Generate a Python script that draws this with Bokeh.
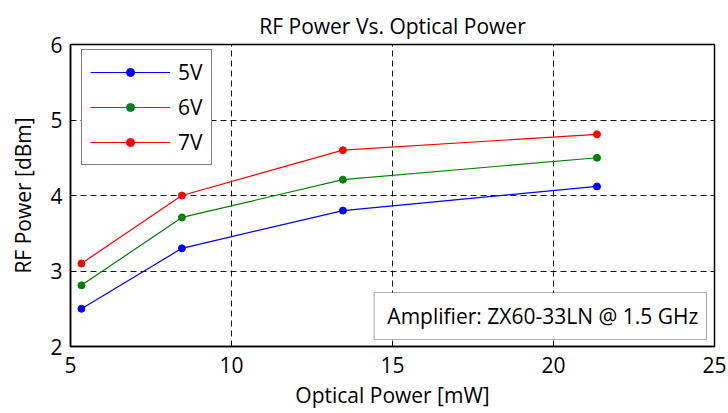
from bokeh.plotting import figure
from bokeh.models import Range1d, Legend, LegendItem, Label, BoxAnnotation, FixedTicker
from bokeh.embed import file_html
from bokeh.resources import INLINE

# Data
optical_power = [5.34, 8.46, 13.46, 21.35]
rf_5v = [2.50, 3.30, 3.80, 4.12]
rf_6v = [2.81, 3.71, 4.21, 4.50]
rf_7v = [3.10, 4.00, 4.60, 4.81]
series_names = ["5V", "6V", "7V"]
series_colors = ["#0000ff", "#008000", "#ff0000"]
x_ticks = [5, 10, 15, 20, 25]
y_ticks = [2, 3, 4, 5, 6]

FONT = "Open Sans"
FS = "21px"

p = figure(frame_width=644, frame_height=302,
           min_border_left=70, min_border_right=14, min_border_top=44, min_border_bottom=67,
           x_range=Range1d(5, 25), y_range=Range1d(2, 6),
           output_backend="svg", toolbar_location=None,
           title="RF Power Vs. Optical Power")

p.title.text_font = FONT
p.title.text_font_size = FS
p.title.text_font_style = "normal"
p.title.align = "center"
p.title.text_color = "black"

p.outline_line_color = "black"
p.outline_line_width = 1.5
p.outline_line_alpha = 1.0
p.background_fill_color = "white"
p.border_fill_color = "white"

for ax, ticks in ((p.xaxis[0], x_ticks), (p.yaxis[0], y_ticks)):
    ax.ticker = FixedTicker(ticks=ticks)
    ax.major_label_text_font = FONT
    ax.major_label_text_font_size = FS
    ax.major_label_text_color = "black"
    ax.axis_label_text_font = FONT
    ax.axis_label_text_font_size = FS
    ax.axis_label_text_font_style = "normal"
    ax.axis_label_text_color = "black"
    ax.major_tick_in = 5
    ax.major_tick_out = 0
    ax.minor_tick_in = 0
    ax.minor_tick_out = 0
    ax.axis_line_color = "black"
    ax.axis_line_width = 1.5
    ax.major_tick_line_color = "black"

p.xaxis.axis_label = "Optical Power [mW]"
p.yaxis.axis_label = "RF Power [dBm]"
p.xaxis.major_label_standoff = 10
p.xaxis.axis_label_standoff = 5
p.yaxis.major_label_standoff = 8
p.yaxis.axis_label_standoff = 10

for g in (p.xgrid[0], p.ygrid[0]):
    g.grid_line_color = "black"
    g.grid_line_dash = "6 4"
    g.grid_line_width = 1
    g.grid_line_alpha = 0.9

items = []
for name, ys, col in zip(series_names, (rf_5v, rf_6v, rf_7v), series_colors):
    l = p.line(optical_power, ys, line_color=col, line_width=1.2)
    c = p.scatter(optical_power, ys, marker="circle", size=7, fill_color=col, line_color=col)
    items.append(LegendItem(label=name, renderers=[l, c]))

legend = Legend(items=items, location=(11, 181))
legend.label_text_font = FONT
legend.label_text_font_size = FS
legend.label_text_color = "black"
legend.glyph_width = 80
legend.glyph_height = 20
legend.spacing = 7
legend.padding = 8
legend.label_standoff = 8
legend.border_line_color = "black"
legend.border_line_width = 1.5
legend.background_fill_color = "white"
legend.background_fill_alpha = 1.0
p.add_layout(legend, "center")

box = BoxAnnotation(left=14.43, right=24.75, bottom=2.093, top=2.715,
                    fill_color="white", fill_alpha=1.0,
                    line_color="black", line_width=1.2)
p.add_layout(box)
note = Label(x=14.84, y=2.404, text="Amplifier: ZX60-33LN @ 1.5 GHz",
             text_font=FONT, text_font_size=FS, text_color="black",
             text_baseline="middle", text_align="left")
p.add_layout(note)

open("out.html", "w").write(file_html(p, INLINE))
